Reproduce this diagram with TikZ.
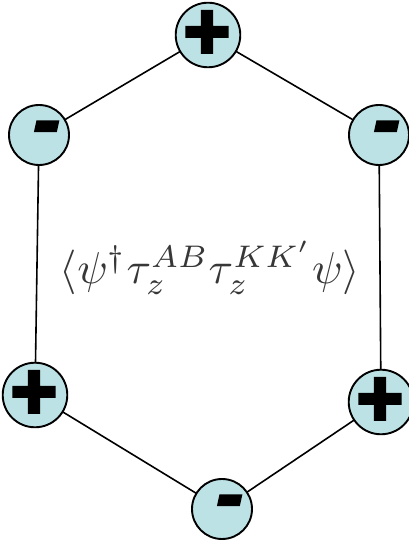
\documentclass[tikz,border=0pt]{standalone}
\usepackage{fontspec}
\newfontfamily\signfont{Liberation Sans Bold}[FakeBold=4]
\newfontfamily\minusfont{Liberation Sans Bold}[FakeBold=2.5,FakeSlant=0.22]
\definecolor{ballfill}{RGB}{189,226,229}
\definecolor{formulagray}{RGB}{55,55,55}
\tikzset{
  ball/.style={circle, draw=black, line width=1.9pt, fill=ballfill, minimum size=60pt, inner sep=0pt},
  plussign/.style={ball, font=\signfont\fontsize{80}{80}\selectfont},
  minussign/.style={ball, font=\minusfont\fontsize{82}{82}\selectfont},
  bond/.style={line width=1.6pt, draw=black}
}
\begin{document}
\begin{tikzpicture}[x=1pt,y=1pt]
\useasboundingbox (0,0) rectangle (409,540);
\coordinate (ctop) at (208,505);
\coordinate (cul) at (39,405);
\coordinate (cur) at (379,405);
\coordinate (cll) at (35,145);
\coordinate (clr) at (381,138);
\coordinate (cb) at (222,31);
\draw[bond] (ctop) -- (cul);
\draw[bond] (ctop) -- (cur);
\draw[bond] (cul) -- (cll);
\draw[bond] (cur) -- (clr);
\draw[bond] (cll) -- (cb);
\draw[bond] (clr) -- (cb);
\node[plussign] (top) at (ctop) {\raisebox{-8pt}{\hspace{-2pt}+}};
\node[minussign] (ul) at (cul) {\raisebox{1pt}{\hspace{6pt}-}};
\node[minussign] (ur) at (cur) {\raisebox{1pt}{\hspace{6pt}-}};
\node[plussign] (ll) at (cll) {\raisebox{-8pt}{\hspace{-2pt}+}};
\node[plussign] (lr) at (clr) {\raisebox{-8pt}{\hspace{-2pt}+}};
\node[minussign] (b) at (cb) {\raisebox{1pt}{\hspace{6pt}-}};
\node[text=formulagray] (f) at (210,272) {\resizebox{300pt}{!}{$\langle\psi^\dagger\tau_z^{AB}\tau_z^{KK'}\psi\rangle$}};
\end{tikzpicture}
\end{document}
